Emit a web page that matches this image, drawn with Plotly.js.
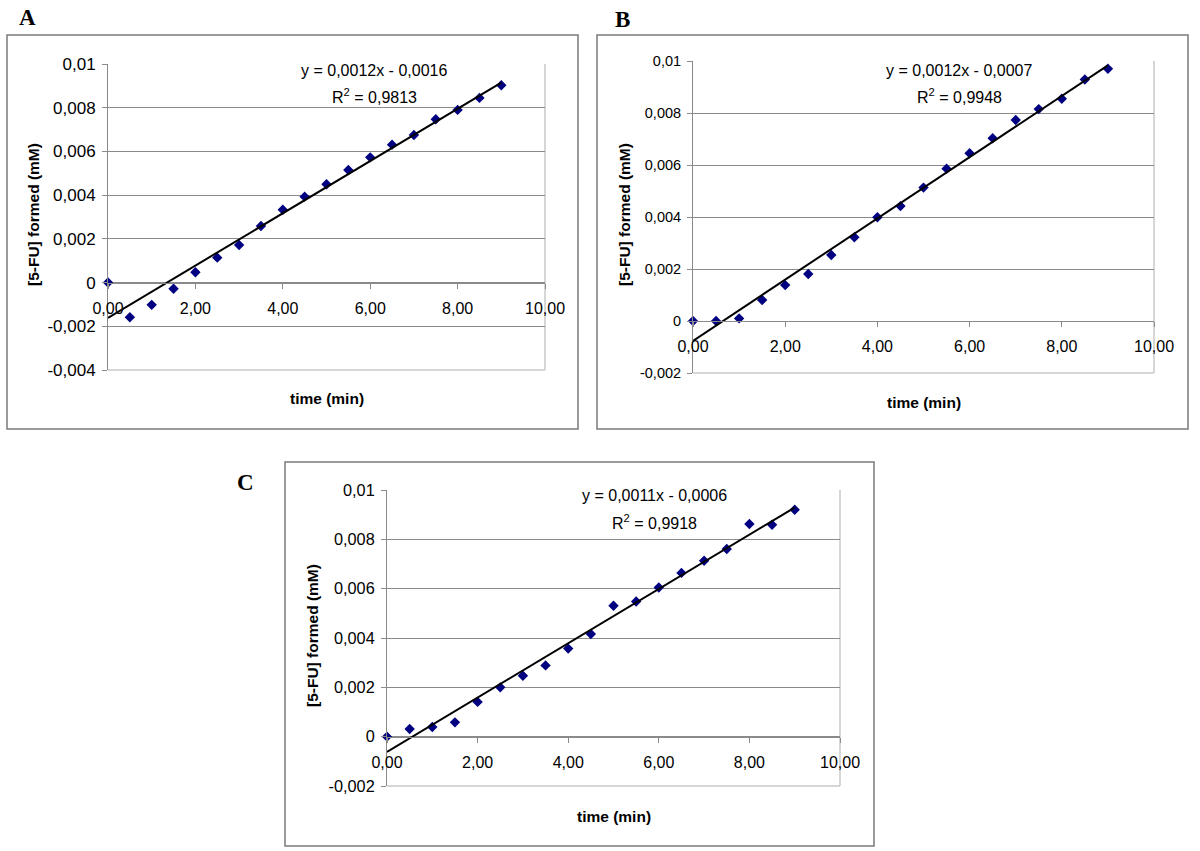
<!DOCTYPE html>
<html>
<head>
<meta charset="utf-8">
<script src="https://cdn.plot.ly/plotly-3.0.1.min.js"></script>
<style>html,body{margin:0;padding:0;background:#fff;}</style>
</head>
<body>
<div id="chart" style="width:1200px;height:851px;"></div>
<script>
// ---- data ----
const timeMin = [0, 0.5, 1, 1.5, 2, 2.5, 3, 3.5, 4, 4.5, 5, 5.5, 6, 6.5, 7, 7.5, 8, 8.5, 9];
const fuA = [0, -0.00159, -0.00102, -0.00028, 0.00047, 0.00114, 0.00172, 0.00259, 0.00333, 0.00393, 0.00450, 0.00515, 0.00573, 0.00631, 0.00675, 0.00747, 0.00790, 0.00845, 0.00903];
const fuB = [0, 0, 0.00010, 0.00081, 0.00138, 0.00181, 0.00254, 0.00322, 0.00399, 0.00442, 0.00513, 0.00586, 0.00645, 0.00703, 0.00773, 0.00815, 0.00855, 0.00929, 0.00970];
const fuC = [0, 0.00031, 0.00039, 0.00058, 0.00141, 0.00200, 0.00247, 0.00289, 0.00357, 0.00416, 0.00531, 0.00548, 0.00605, 0.00664, 0.00713, 0.00761, 0.00862, 0.00859, 0.00920];

const panelLetters = ['A', 'B', 'C'];
const equationTexts = ['y = 0,0012x - 0,0016', 'y = 0,0012x - 0,0007', 'y = 0,0011x - 0,0006'];
const r2Texts = ['R<sup>2</sup> = 0,9813', 'R<sup>2</sup> = 0,9948', 'R<sup>2</sup> = 0,9918'];
const xTitle = 'time (min)';
const yTitle = '[5-FU] formed (mM)';

const xTickVals = [0, 2, 4, 6, 8, 10];
const xTickText = ['0,00', '2,00', '4,00', '6,00', '8,00', '10,00'];
const yTickValsA = [-0.004, -0.002, 0, 0.002, 0.004, 0.006, 0.008, 0.01];
const yTickTextA = ['-0,004', '-0,002', '0', '0,002', '0,004', '0,006', '0,008', '0,01'];
const yTickValsBC = [-0.002, 0, 0.002, 0.004, 0.006, 0.008, 0.01];
const yTickTextBC = ['-0,002', '0', '0,002', '0,004', '0,006', '0,008', '0,01'];

// ---- layout geometry (pixels in the 1200x851 page) ----
const W = 1200, H = 851;
const panels = [
  {ys: fuA, yr: [-0.004, 0.01], tv: yTickValsA, tt: yTickTextA, yfs: 17,
   plot: {l:108, r:545, t:64, b:370}, box: {l:7, r:578, t:35, b:429},
   letter: [27, 18], ytitle: [33, 215], xtitle: [326.5, 398], eq: [373.5, 70], r2: [374, 96.5]},
  {ys: fuB, yr: [-0.002, 0.01], tv: yTickValsBC, tt: yTickTextBC, yfs: 14.5,
   plot: {l:693, r:1154, t:61, b:373}, box: {l:597, r:1188, t:35, b:429},
   letter: [622, 19], ytitle: [624, 215], xtitle: [923.5, 402], eq: [959, 70.5], r2: [959, 96.5]},
  {ys: fuC, yr: [-0.002, 0.01], tv: yTickValsBC, tt: yTickTextBC, yfs: 16.3,
   plot: {l:387, r:840, t:490, b:786}, box: {l:285, r:874, t:462, b:846},
   letter: [246, 482], ytitle: [312, 636], xtitle: [613.5, 816], eq: [654.5, 495], r2: [655, 521.5]}
];

const fx = p => p / W;
const fy = p => 1 - p / H;
const FONT = 'Liberation Sans, Arial, sans-serif';
const GRID = '#8a8a8a';

function linfit(xs, ys) {
  const n = xs.length;
  const mx = xs.reduce((a, b) => a + b, 0) / n;
  const my = ys.reduce((a, b) => a + b, 0) / n;
  let sxy = 0, sxx = 0;
  for (let i = 0; i < n; i++) { sxy += (xs[i] - mx) * (ys[i] - my); sxx += (xs[i] - mx) ** 2; }
  const m = sxy / sxx;
  return {m: m, b: my - m * mx};
}

const traces = [];
const layout = {
  width: W, height: H,
  margin: {l: 0, r: 0, t: 0, b: 0},
  paper_bgcolor: '#ffffff', plot_bgcolor: '#ffffff',
  showlegend: false,
  font: {family: FONT, color: '#000000', size: 16},
  shapes: [], annotations: []
};

panels.forEach((p, i) => {
  const sx = i === 0 ? '' : String(i + 1);
  const xa = 'x' + sx, ya = 'y' + sx;
  const xd = [fx(p.plot.l), fx(p.plot.r)];
  const yd = [fy(p.plot.b), fy(p.plot.t)];
  const zeroPos = yd[0] + (0 - p.yr[0]) / (p.yr[1] - p.yr[0]) * (yd[1] - yd[0]);

  // data points
  traces.push({
    x: timeMin, y: p.ys, xaxis: xa, yaxis: ya, type: 'scatter', mode: 'markers',
    marker: {symbol: 'diamond', size: 8, color: '#000080'},
    cliponaxis: false, hoverinfo: 'skip'
  });
  // linear trendline from least squares on the data
  const f = linfit(timeMin, p.ys);
  const x0 = Math.min(...timeMin), x1 = Math.max(...timeMin);
  traces.push({
    x: [x0, x1], y: [f.m * x0 + f.b, f.m * x1 + f.b], xaxis: xa, yaxis: ya,
    type: 'scatter', mode: 'lines', line: {color: '#000000', width: 2},
    cliponaxis: false, hoverinfo: 'skip'
  });

  layout['xaxis' + sx] = {
    domain: xd, range: [0, 10], anchor: 'free', position: zeroPos,
    showgrid: false, zeroline: false, showline: true, linecolor: GRID, linewidth: 1,
    ticks: 'outside', ticklen: 5, tickcolor: GRID, tickwidth: 1,
    tickvals: xTickVals, ticktext: xTickText, ticklabelstandoff: 6,
    tickfont: {family: FONT, size: 16, color: '#000'}, fixedrange: true
  };
  layout['yaxis' + sx] = {
    domain: yd, range: p.yr, anchor: xa,
    showgrid: true, gridcolor: GRID, gridwidth: 1, zeroline: false,
    showline: true, linecolor: GRID, linewidth: 1,
    ticks: 'outside', ticklen: 5, tickcolor: GRID, tickwidth: 1,
    tickvals: p.tv, ticktext: p.tt, ticklabelstandoff: 3,
    tickfont: {family: FONT, size: p.yfs, color: '#000'}, fixedrange: true
  };

  // plot-area border (right and bottom) in light gray
  layout.shapes.push({type: 'line', xref: xa + ' domain', yref: ya + ' domain', x0: 1, x1: 1, y0: 0, y1: 1,
    line: {color: '#c8c8c8', width: 1.5}, layer: 'below'});
  layout.shapes.push({type: 'line', xref: xa + ' domain', yref: ya + ' domain', x0: 0, x1: 1, y0: 0, y1: 0,
    line: {color: '#c8c8c8', width: 1.5}, layer: 'below'});
  // chart outer frame
  layout.shapes.push({type: 'rect', xref: 'paper', yref: 'paper',
    x0: fx(p.box.l), x1: fx(p.box.r), y0: fy(p.box.b), y1: fy(p.box.t),
    line: {color: '#7a7a7a', width: 1.5}, fillcolor: 'rgba(0,0,0,0)', layer: 'below'});

  const ann = (txt, pos, font, extra) => Object.assign({
    text: txt, xref: 'paper', yref: 'paper', x: fx(pos[0]), y: fy(pos[1]),
    xanchor: 'center', yanchor: 'middle', showarrow: false, font: font
  }, extra || {});

  layout.annotations.push(ann('<b>' + panelLetters[i] + '</b>', p.letter,
    {family: 'Liberation Serif, Times New Roman, serif', size: 23, color: '#000'}));
  layout.annotations.push(ann('<b>' + yTitle + '</b>', p.ytitle,
    {family: FONT, size: 15.5, color: '#000'}, {textangle: -90}));
  layout.annotations.push(ann('<b>' + xTitle + '</b>', p.xtitle,
    {family: FONT, size: 15.5, color: '#000'}));
  layout.annotations.push(ann(equationTexts[i], p.eq, {family: FONT, size: 16, color: '#000'}));
  layout.annotations.push(ann(r2Texts[i], p.r2, {family: FONT, size: 16, color: '#000'}));
});

Plotly.newPlot('chart', traces, layout, {staticPlot: true, displayModeBar: false});
</script>
</body>
</html>
